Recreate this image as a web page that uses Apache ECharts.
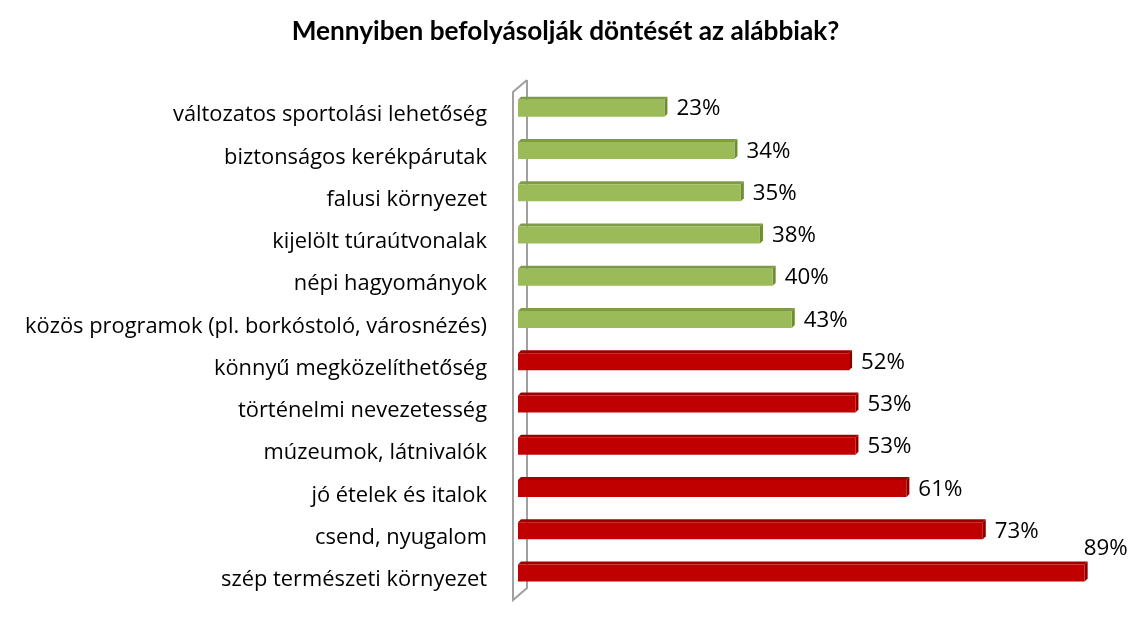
<!DOCTYPE html>
<html><head><meta charset="utf-8">
<script src="https://cdn.jsdelivr.net/npm/echarts@6/dist/echarts.min.js"></script>
<style>html,body{margin:0;padding:0;background:#fff}#c{width:1131px;height:617px}</style>
</head><body><div id="c"></div>
<script>
const chartTitle = 'Mennyiben befolyásolják döntését az alábbiak?';
const categories = [
  'változatos sportolási lehetőség',
  'biztonságos kerékpárutak',
  'falusi környezet',
  'kijelölt túraútvonalak',
  'népi hagyományok',
  'közös programok (pl. borkóstoló, városnézés)',
  'könnyű megközelíthetőség',
  'történelmi nevezetesség',
  'múzeumok, látnivalók',
  'jó ételek és italok',
  'csend, nyugalom',
  'szép természeti környezet'
];
const values = [23, 34, 35, 38, 40, 43, 52, 53, 53, 61, 73, 89];
const groups = ['B', 'B', 'B', 'B', 'B', 'B', 'A', 'A', 'A', 'A', 'A', 'A'];
const valueMax = 90;

const FONT = 'Open Sans';
const TFONT = 'Lato';
function fitSize(text, target, weight, fam) {
  const c = document.createElement('canvas').getContext('2d');
  c.font = weight + ' 100px "' + fam + '"';
  return 100 * target / c.measureText(text).width;
}
const labelSize = fitSize(categories[5], 462, 'normal', FONT);
const titleSize = fitSize(chartTitle, 548, 'bold', TFONT);
const valueSize = fitSize('23%', 44, 'normal', FONT);

const palette = {
  B: { front: '#9BBB59', top: '#7F9B45', side: '#6E8A3A' },
  A: { front: '#C00000', top: '#9E0000', side: '#7F0000' }
};

const GRID = { left: 518, right: 40, top: 94, bottom: 16 };
const W = 1131, H = 617;

const chart = echarts.init(document.getElementById('c'), null, { renderer: 'canvas' });

function renderItem(params, api) {
  const i = api.value(1);
  const v = api.value(0);
  const end = api.coord([v, i]);
  const start = api.coord([0, i]);
  const h = 17, d = 3, lift = 7;
  const yc = end[1] - lift;
  const y0 = yc - h / 2, y1 = yc + h / 2;
  const x0 = start[0], x1 = end[0];
  const p = palette[groups[i]];
  const txt = v + '%';
  const ctx = document.createElement('canvas').getContext('2d');
  ctx.font = valueSize + 'px "' + FONT + '"';
  const tw = ctx.measureText(txt).width;
  let label;
  if (x1 + d + 9 + tw > W - 2) {
    label = { type: 'text', style: { text: txt, x: x1 - 1, y: y0 - d - 2, fill: '#000', fontSize: valueSize, fontFamily: FONT, align: 'left', verticalAlign: 'bottom' } };
  } else {
    label = { type: 'text', style: { text: txt, x: x1 + d + 9, y: yc + 1, fill: '#000', fontSize: valueSize, fontFamily: FONT, align: 'left', verticalAlign: 'middle' } };
  }
  return {
    type: 'group',
    children: [
      { type: 'polygon', shape: { points: [[x0, y0], [x0 + d, y0 - d], [x1 + d, y0 - d], [x1, y0]] }, style: { fill: p.top } },
      { type: 'polygon', shape: { points: [[x1, y0], [x1 + d, y0 - d], [x1 + d, y1 - d], [x1, y1]] }, style: { fill: p.side } },
      { type: 'rect', shape: { x: x0, y: y0, width: x1 - x0, height: h }, style: { fill: p.front } },
      label
    ]
  };
}

const gx = GRID.left, gTop = GRID.top, gBot = H - GRID.bottom;
const wallColor = '#A0A0A0';

chart.setOption({
  animation: false,
  backgroundColor: '#fff',
  title: {
    text: chartTitle, left: 'center', top: 14,
    textStyle: { fontFamily: TFONT, fontWeight: 'bold', fontSize: titleSize, color: '#000' }
  },
  grid: { left: GRID.left, right: GRID.right, top: GRID.top, bottom: GRID.bottom, containLabel: false },
  xAxis: { type: 'value', min: 0, max: valueMax, show: false },
  yAxis: {
    type: 'category', data: categories, inverse: true,
    axisLine: { show: false }, axisTick: { show: false }, splitLine: { show: false },
    axisLabel: { margin: 31, fontFamily: FONT, fontSize: labelSize, color: '#000' }
  },
  graphic: [
    { type: 'polyline', z: 0, shape: { points: [[gx + 9, gTop - 14], [gx - 5, gTop - 2], [gx - 5, gBot - 1], [gx + 9, gBot - 13], [gx + 9, gTop - 14]] }, style: { stroke: wallColor, lineWidth: 2, fill: null } }
  ],
  series: [{
    type: 'custom',
    renderItem: renderItem,
    encode: { x: 0, y: 1 },
    data: values.map((v, i) => [v, i]),
    z: 5
  }]
});
</script>
</body></html>
